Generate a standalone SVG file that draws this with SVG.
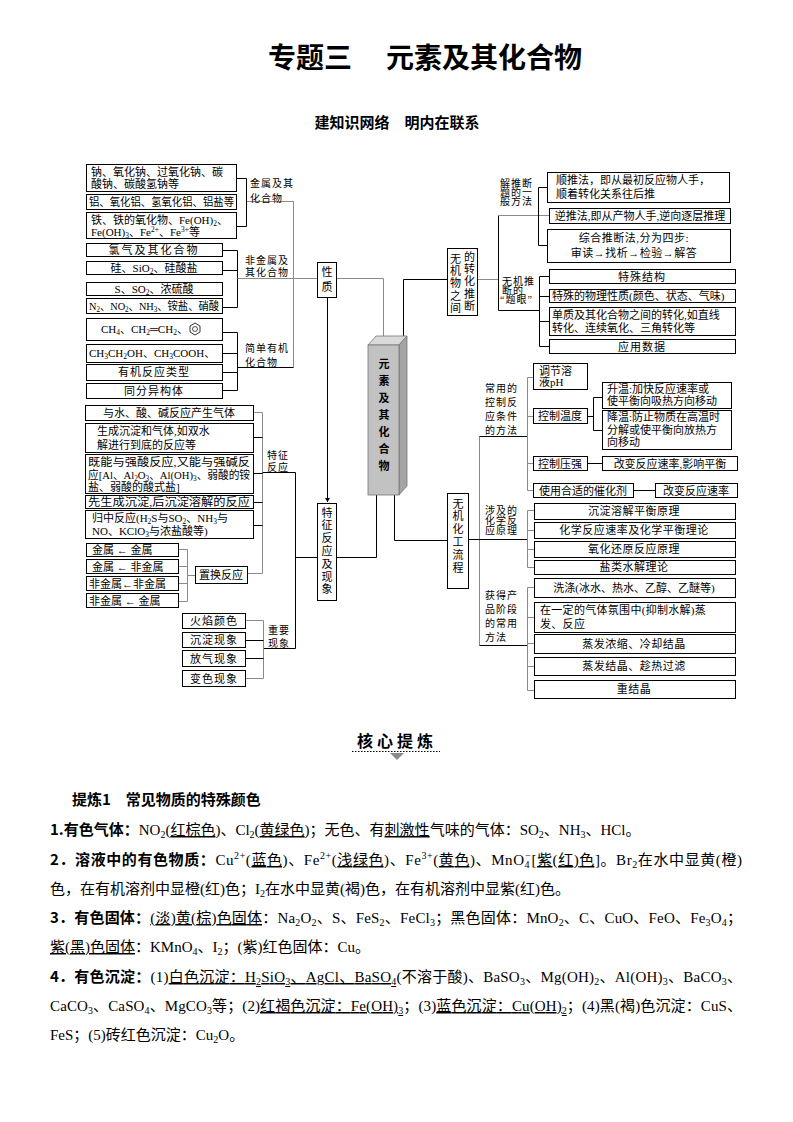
<svg xmlns="http://www.w3.org/2000/svg" width="793" height="1122" viewBox="0 0 793 1122">
<defs>
<style>
.b{fill:#fff;stroke:#000;stroke-width:1}
.t{font-family:"Liberation Serif","Noto Sans CJK SC",serif;font-size:11px;fill:#000}
.c{text-anchor:middle}
.lb{font-family:"Liberation Serif","Noto Sans CJK SC",serif;font-size:10px;fill:#000;letter-spacing:1px}
.s{font-size:7.5px}
.k{stroke:#000;stroke-width:1;fill:none}
.g{stroke:#8a8a8a;stroke-width:1;fill:none}
.v{font-family:"Noto Sans CJK SC",sans-serif;font-size:11px;fill:#000;writing-mode:vertical-rl}
.p{font-family:"Liberation Serif","Noto Sans CJK SC",serif;font-size:15px;fill:#000}
.bd{font-family:"Noto Sans CJK SC",sans-serif;font-weight:bold}
.w{text-decoration:underline wavy;text-decoration-thickness:1px}
.ps{font-size:10px}
</style>
<marker id="ah" markerWidth="5" markerHeight="5" refX="4" refY="2.5" orient="auto" markerUnits="userSpaceOnUse"><path d="M0,0 L4,2.5 L0,5 z" fill="#000"/></marker>
</defs>
<rect width="793" height="1122" fill="#fff"/>

<g id="title">
<text x="268" y="68" font-family="Noto Sans CJK SC,sans-serif" font-size="28" font-weight="bold">专题三</text>
<text x="386" y="68" font-family="Noto Sans CJK SC,sans-serif" font-size="28" font-weight="bold">元素及其化合物</text>
<text x="397" y="128" font-family="Noto Sans CJK SC,sans-serif" font-size="15" font-weight="bold" text-anchor="middle">建知识网络　明内在联系</text>
</g>

<g id="connectors">
<path class="k" d="M236,178.5H246.5V226.5H236"/>
<path class="g" d="M247,201.5H293.5V367.5"/>
<path class="k" d="M222,250.5H237.5V307.5H222M222,270.5H237.5"/>
<path class="g" d="M237.5,278.5H317"/>
<path class="k" d="M222,332.5H237.5V390.5H222M222,353.5H237.5M222,372.5H237.5M237.5,367.5H293.5"/>
<path class="g" d="M337,278.5H383.5V337"/>
<path class="k" d="M327.5,297V502" marker-end="url(#ah)"/>
<path class="k" d="M403.5,337V279.5H447"/>
<path class="g" d="M477,279.5H498.5"/>
<path class="k" d="M498.5,215.5V310.5H539"/>
<path class="g" d="M498.5,215.5H549"/>
<path class="k" d="M547,187.5H538.5V245.5H547"/>
<path class="k" d="M549,276.5H539.5V346.5H549M539.5,296.5H549M539.5,321.5H549"/>
<path class="k" d="M376.5,495V557.5H336"/>
<path class="k" d="M394.5,490V540.5H447"/>
<path class="g" d="M253,412.5H262.5V573.5H247"/>
<path class="k" d="M253,437.5H262.5M253,473.5H262.5M253,502.5H262.5M253,525.5H262.5"/>
<path class="k" d="M262.5,472.5H295.5V648.5H263"/>
<path class="k" d="M295.5,557.5H317"/>
<path class="g" d="M245,620.5H263.5V678.5H245"/>
<path class="k" d="M245,640.5H263.5M245,658.5H263.5"/>
<path class="g" d="M178,549.5H187.5V601.5H178M178,566.5H187.5M178,583.5H187.5M187.5,575.5H195"/>
<path class="g" d="M479.5,436.5V645.5"/>
<path class="k" d="M468,539.5H527.5M479.5,436.5H527.5M479.5,645.5H527.5"/>
<path class="g" d="M533,377.5H527.5V490.5H533M527.5,416.5H533M527.5,463.5H533"/>
<path class="k" d="M587,416.5H593.5M593.5,397.5V430.5M593.5,397.5H602M593.5,430.5H602M587,463.5H602M633,490.5H655"/>
<path class="g" d="M534,510.5H527.5V567.5H534M527.5,530.5H534M527.5,549.5H534"/>
<path class="g" d="M534,587.5H527.5V690.5H534M527.5,617.5H534M527.5,643.5H534M527.5,666.5H534"/>
</g>

<g id="main">
<polygon points="368,345 376,336 407,336 399,345" fill="#dadada" stroke="#777" stroke-width="0.8"/>
<polygon points="399,345 407,336 407,486 399,495" fill="#a4a4a4" stroke="#777" stroke-width="0.8"/>
<rect x="368" y="345" width="31" height="150" fill="#c2c2c2" stroke="#777" stroke-width="0.8"/>
<text class="v" x="384" y="358" font-size="13" font-weight="bold" letter-spacing="6">元素及其化合物</text>
</g>

<g id="n-xingzhi"><rect class="b" x="317.5" y="262.5" width="19" height="35"/><text class="v" x="327" y="266" font-size="12" letter-spacing="4">性质</text></g>
<g id="n-tezheng"><rect class="b" x="317.5" y="503.5" width="19" height="97"/><text class="v" x="327" y="507" font-size="11.5" letter-spacing="1.8">特征反应及现象</text></g>
<g id="n-wuji"><rect class="b" x="447.5" y="248.5" width="30" height="67"/>
<text class="v" x="455.5" y="253" letter-spacing="1.4">无机物之间</text>
<text class="v" x="469.5" y="251" letter-spacing="1.4">的转化推断</text></g>
<g id="n-huagong"><rect class="b" x="447.5" y="493.5" width="21" height="95"/><text class="v" x="458" y="498" font-size="12.5" letter-spacing="1.8">无机化工流程</text></g>

<g id="labels-left">
<text class="lb" x="250" y="187">金属及其<tspan x="250" dy="15">化合物</tspan></text>
<text class="lb" x="245" y="264">非金属及<tspan x="245" dy="12">其化合物</tspan></text>
<text class="lb" x="245" y="352">简单有机<tspan x="245" dy="14">化合物</tspan></text>
<text class="lb" x="267" y="459">特征<tspan x="267" dy="12">反应</tspan></text>
<text class="lb" x="268" y="634">重要<tspan x="268" dy="13">现象</tspan></text>
</g>

<g id="n-na"><rect class="b" x="86.5" y="164.5" width="150" height="27"/><text class="t" x="91" y="176">钠、氧化钠、过氧化钠、碳<tspan x="91" dy="12">酸钠、碳酸氢钠等</tspan></text></g>
<g id="n-al"><rect class="b" x="86.5" y="194.5" width="150" height="15"/><text class="t" x="89" y="206" textLength="145" lengthAdjust="spacingAndGlyphs">铝、氧化铝、氢氧化铝、铝盐等</text></g>
<g id="n-fe"><rect class="b" x="86.5" y="212.5" width="150" height="26"/><text class="t" x="91" y="224">铁、铁的氧化物、Fe(OH)<tspan class="s" dy="2">2</tspan><tspan dy="-2">、</tspan><tspan x="91" dy="12">Fe(OH)</tspan><tspan class="s" dy="2">3</tspan><tspan dy="-2">、Fe</tspan><tspan class="s" dy="-4">2+</tspan><tspan dy="4">、Fe</tspan><tspan class="s" dy="-4">3+</tspan><tspan dy="4">等</tspan></text></g>
<g id="n-cl"><rect class="b" x="86.5" y="243.5" width="136" height="13"/><text class="t c" x="154" y="254" letter-spacing="2">氯气及其化合物</text></g>
<g id="n-si"><rect class="b" x="86.5" y="261.5" width="136" height="13"/><text class="t c" x="154" y="272">硅、SiO<tspan class="s" dy="2">2</tspan><tspan dy="-2">、硅酸盐</tspan></text></g>
<g id="n-s"><rect class="b" x="86.5" y="282.5" width="136" height="13"/><text class="t c" x="154" y="293">S、SO<tspan class="s" dy="2">2</tspan><tspan dy="-2">、浓硫酸</tspan></text></g>
<g id="n-n"><rect class="b" x="86.5" y="298.5" width="136" height="15"/><text class="t" x="89" y="310" font-size="10.5" textLength="130" lengthAdjust="spacingAndGlyphs">N<tspan class="s" dy="2">2</tspan><tspan dy="-2">、NO</tspan><tspan class="s" dy="2">2</tspan><tspan dy="-2">、NH</tspan><tspan class="s" dy="2">3</tspan><tspan dy="-2">、铵盐、硝酸</tspan></text></g>
<g id="n-ch4"><rect class="b" x="86.5" y="318.5" width="136" height="22"/><text class="t" x="101" y="333">CH<tspan class="s" dy="2">4</tspan><tspan dy="-2">、CH</tspan><tspan class="s" dy="2">2</tspan><tspan dy="-2">═CH</tspan><tspan class="s" dy="2">2</tspan><tspan dy="-2">、</tspan></text>
<polygon points="195,323 200,326 200,332 195,335 190,332 190,326" fill="none" stroke="#000" stroke-width="0.8"/><circle cx="195" cy="329" r="2.5" fill="none" stroke="#000" stroke-width="0.7"/></g>
<g id="n-ch3"><rect class="b" x="86.5" y="344.5" width="136" height="18"/><text class="t" x="89" y="357">CH<tspan class="s" dy="2">3</tspan><tspan dy="-2">CH</tspan><tspan class="s" dy="2">2</tspan><tspan dy="-2">OH、CH</tspan><tspan class="s" dy="2">3</tspan><tspan dy="-2">COOH、</tspan></text></g>
<g id="n-yjfy"><rect class="b" x="86.5" y="364.5" width="136" height="16"/><text class="t c" x="154" y="376" letter-spacing="1">有机反应类型</text></g>
<g id="n-tfy"><rect class="b" x="86.5" y="383.5" width="136" height="15"/><text class="t c" x="154" y="395" letter-spacing="1">同分异构体</text></g>

<g id="n-gas"><rect class="b" x="85.5" y="405.5" width="168" height="15"/><text class="t c" x="169" y="417">与水、酸、碱反应产生气体</text></g>
<g id="n-sj"><rect class="b" x="85.5" y="423.5" width="168" height="29"/><text class="t" x="97" y="435" font-size="12">生成沉淀和气体,如双水<tspan x="97" dy="14">解进行到底的反应等</tspan></text></g>
<g id="n-ls"><rect class="b" x="85.5" y="454.5" width="168" height="39"/><text class="t" x="88" y="466" textLength="162" lengthAdjust="spacingAndGlyphs">既能与强酸反应,又能与强碱反</text><text class="t" x="88" y="479" textLength="162" lengthAdjust="spacingAndGlyphs">应[Al、Al<tspan class="s" dy="2">2</tspan><tspan dy="-2">O</tspan><tspan class="s" dy="2">3</tspan><tspan dy="-2">、Al(OH)</tspan><tspan class="s" dy="2">3</tspan><tspan dy="-2">、弱酸的铵</tspan></text><text class="t" x="88" y="491">盐、弱酸的酸式盐]</text></g>
<g id="n-xs"><rect class="b" x="85.5" y="495.5" width="168" height="13"/><text class="t" x="88" y="506" textLength="162" lengthAdjust="spacingAndGlyphs">先生成沉淀,后沉淀溶解的反应</text></g>
<g id="n-gz"><rect class="b" x="85.5" y="510.5" width="168" height="28"/><text class="t" x="92" y="522">归中反应(H<tspan class="s" dy="2">2</tspan><tspan dy="-2">S与SO</tspan><tspan class="s" dy="2">2</tspan><tspan dy="-2">、NH</tspan><tspan class="s" dy="2">3</tspan><tspan dy="-2">与</tspan><tspan x="92" dy="13">NO、KClO</tspan><tspan class="s" dy="2">3</tspan><tspan dy="-2">与浓盐酸等)</tspan></text></g>

<g id="n-zh1"><rect class="b" x="86.5" y="543.5" width="92" height="13"/><text class="t" x="92" y="554">金属 ← 金属</text></g>
<g id="n-zh2"><rect class="b" x="86.5" y="559.5" width="92" height="14"/><text class="t" x="92" y="571">金属 ← 非金属</text></g>
<g id="n-zh3"><rect class="b" x="86.5" y="576.5" width="92" height="14"/><text class="t" x="89" y="588">非金属←非金属</text></g>
<g id="n-zh4"><rect class="b" x="86.5" y="593.5" width="92" height="14"/><text class="t" x="89" y="605">非金属 ← 金属</text></g>
<g id="n-zhfy"><rect class="b" x="195.5" y="566.5" width="52" height="17"/><text class="t c" x="221" y="579" font-size="11.5">置换反应</text></g>

<g id="n-hy"><rect class="b" x="182.5" y="613.5" width="63" height="15"/><text class="t c" x="214" y="625" letter-spacing="1">火焰颜色</text></g>
<g id="n-cd"><rect class="b" x="182.5" y="632.5" width="63" height="15"/><text class="t c" x="214" y="644" letter-spacing="1">沉淀现象</text></g>
<g id="n-fq"><rect class="b" x="182.5" y="650.5" width="63" height="16"/><text class="t c" x="214" y="663" letter-spacing="1">放气现象</text></g>
<g id="n-bs"><rect class="b" x="182.5" y="670.5" width="63" height="16"/><text class="t c" x="214" y="683" letter-spacing="1">变色现象</text></g>

<g id="labels-right">
<text class="lb" x="500" y="187" font-size="9.5">解推断<tspan x="500" dy="9">题的一</tspan><tspan x="500" dy="9">般方法</tspan></text>
<text class="lb" x="502" y="285" font-size="9.5">无机推<tspan x="502" dy="9">断的</tspan><tspan x="500" dy="9">“题眼”</tspan></text>
<text class="lb" x="485" y="392">常用的<tspan x="485" dy="14">控制反</tspan><tspan x="485" dy="14">应条件</tspan><tspan x="485" dy="14">的方法</tspan></text>
<text class="lb" x="485" y="514" font-size="9.5">涉及的<tspan x="485" dy="10">化学反</tspan><tspan x="485" dy="10">应原理</tspan></text>
<text class="lb" x="485" y="599">获得产<tspan x="485" dy="14">品阶段</tspan><tspan x="485" dy="14">的常用</tspan><tspan x="485" dy="14">方法</tspan></text>
</g>

<g id="n-shun"><rect class="b" x="547.5" y="172.5" width="182" height="30"/><text class="t" x="556" y="184">顺推法，即从最初反应物人手，<tspan x="556" dy="14">顺着转化关系往后推</tspan></text></g>
<g id="n-ni"><rect class="b" x="549.5" y="208.5" width="181" height="15"/><text class="t c" x="640" y="220" font-size="10.5">逆推法,即从产物人手,逆向逐层推理</text></g>
<g id="n-zonghe"><rect class="b" x="547.5" y="229.5" width="183" height="33"/><text class="t c" x="634" y="242" letter-spacing="0.5">综合推断法,分为四步:<tspan x="634" dy="15">审读→找析→检验→解答</tspan></text></g>
<g id="n-tsjg"><rect class="b" x="549.5" y="269.5" width="186" height="14"/><text class="t c" x="642" y="281" letter-spacing="1">特殊结构</text></g>
<g id="n-wlxz"><rect class="b" x="549.5" y="289.5" width="186" height="13"/><text class="t" x="552" y="300" font-size="10.5">特殊的物理性质(颜色、状态、气味)</text></g>
<g id="n-dz"><rect class="b" x="549.5" y="307.5" width="186" height="28"/><text class="t" x="552" y="319">单质及其化合物之间的转化,如直线<tspan x="552" dy="13">转化、连续氧化、三角转化等</tspan></text></g>
<g id="n-yysj"><rect class="b" x="549.5" y="339.5" width="186" height="14"/><text class="t c" x="642" y="351" letter-spacing="1">应用数据</text></g>

<g id="n-ph"><rect class="b" x="533.5" y="363.5" width="54" height="26"/><text class="t" x="539" y="375">调节溶<tspan x="539" dy="11">液pH</tspan></text></g>
<g id="n-wd"><rect class="b" x="533.5" y="408.5" width="54" height="15"/><text class="t c" x="560" y="420">控制温度</text></g>
<g id="n-sw"><rect class="b" x="602.5" y="382.5" width="129" height="26"/><text class="t" x="607" y="393">升温:加快反应速率或<tspan x="607" dy="12">使平衡向吸热方向移动</tspan></text></g>
<g id="n-jw"><rect class="b" x="602.5" y="410.5" width="129" height="39"/><text class="t" x="607" y="421">降温:防止物质在高温时<tspan x="607" dy="13">分解或使平衡向放热方</tspan><tspan x="607" dy="12">向移动</tspan></text></g>
<g id="n-yq"><rect class="b" x="533.5" y="456.5" width="54" height="14"/><text class="t c" x="560" y="468">控制压强</text></g>
<g id="n-yqr"><rect class="b" x="602.5" y="456.5" width="135" height="14"/><text class="t c" x="670" y="468">改变反应速率,影响平衡</text></g>
<g id="n-chj"><rect class="b" x="533.5" y="483.5" width="100" height="14"/><text class="t c" x="583" y="495">使用合适的催化剂</text></g>
<g id="n-chjr"><rect class="b" x="655.5" y="483.5" width="82" height="14"/><text class="t c" x="696" y="495">改变反应速率</text></g>

<g id="n-cdrj"><rect class="b" x="534.5" y="503.5" width="201" height="16"/><text class="t c" x="634" y="515" letter-spacing="0.5">沉淀溶解平衡原理</text></g>
<g id="n-sl"><rect class="b" x="534.5" y="522.5" width="201" height="16"/><text class="t c" x="634" y="534" letter-spacing="0.5">化学反应速率及化学平衡理论</text></g>
<g id="n-yh"><rect class="b" x="534.5" y="541.5" width="201" height="16"/><text class="t c" x="634" y="553" letter-spacing="0.5">氧化还原反应原理</text></g>
<g id="n-sj2"><rect class="b" x="534.5" y="560.5" width="201" height="14"/><text class="t c" x="634" y="571" letter-spacing="0.5">盐类水解理论</text></g>
<g id="n-xd"><rect class="b" x="534.5" y="578.5" width="201" height="19"/><text class="t c" x="634" y="592">洗涤(冰水、热水、乙醇、乙醚等)</text></g>
<g id="n-qt"><rect class="b" x="534.5" y="602.5" width="201" height="30"/><text class="t" x="540" y="614" letter-spacing="0.3">在一定的气体氛围中(抑制水解)蒸<tspan x="540" dy="14">发、反应</tspan></text></g>
<g id="n-zf1"><rect class="b" x="534.5" y="634.5" width="201" height="19"/><text class="t c" x="634" y="648" letter-spacing="0.5">蒸发浓缩、冷却结晶</text></g>
<g id="n-zf2"><rect class="b" x="534.5" y="657.5" width="201" height="18"/><text class="t c" x="634" y="670" letter-spacing="0.5">蒸发结晶、趁热过滤</text></g>
<g id="n-cj"><rect class="b" x="534.5" y="680.5" width="201" height="18"/><text class="t c" x="634" y="693" letter-spacing="0.5">重结晶</text></g>

<g id="section">
<text x="397" y="747" font-family="Noto Sans CJK SC,sans-serif" font-size="16" font-weight="bold" text-anchor="middle" letter-spacing="4">核心提炼</text>
<line x1="352" y1="751.5" x2="440" y2="751.5" stroke="#000" stroke-width="1" stroke-dasharray="1.5,1.5"/>
<polygon points="390,753 404,753 397,760" fill="#8a8a8a"/>
<text x="72" y="805" font-family="Noto Sans CJK SC,sans-serif" font-size="15" font-weight="bold">提炼1　常见物质的特殊颜色</text>
</g>

<g id="body">
<text class="p" x="50" y="835"><tspan class="bd">1.有色气体：</tspan>NO<tspan class="ps" dy="3">2</tspan><tspan dy="-3">(</tspan><tspan class="w">红棕色</tspan>)、Cl<tspan class="ps" dy="3">2</tspan><tspan dy="-3">(</tspan><tspan class="w">黄绿色</tspan>)；无色、有<tspan class="w">刺激性</tspan>气味的气体：SO<tspan class="ps" dy="3">2</tspan><tspan dy="-3">、NH</tspan><tspan class="ps" dy="3">3</tspan><tspan dy="-3">、HCl。</tspan></text>
<text class="p" x="50" y="865" textLength="692" lengthAdjust="spacing"><tspan class="bd">2．溶液中的有色物质：</tspan>Cu<tspan class="ps" dy="-6">2+</tspan><tspan dy="6">(</tspan><tspan class="w">蓝色</tspan>)、Fe<tspan class="ps" dy="-6">2+</tspan><tspan dy="6">(</tspan><tspan class="w">浅绿色</tspan>)、Fe<tspan class="ps" dy="-6">3+</tspan><tspan dy="6">(</tspan><tspan class="w">黄色</tspan>)、MnO<tspan class="ps" dy="3">4</tspan><tspan class="ps" dx="-5" dy="-9">−</tspan><tspan dy="6">[</tspan><tspan class="w">紫(红)色</tspan>]。Br<tspan class="ps" dy="3">2</tspan><tspan dy="-3">在水中显黄(橙)</tspan></text>
<text class="p" x="50" y="894">色，在有机溶剂中显橙(红)色；I<tspan class="ps" dy="3">2</tspan><tspan dy="-3">在水中显黄(褐)色，在有机溶剂中显紫(红)色。</tspan></text>
<text class="p" x="50" y="923" textLength="692" lengthAdjust="spacing"><tspan class="bd">3．有色固体：</tspan><tspan class="w">(淡)黄(棕)色固体</tspan>：Na<tspan class="ps" dy="3">2</tspan><tspan dy="-3">O</tspan><tspan class="ps" dy="3">2</tspan><tspan dy="-3">、S、FeS</tspan><tspan class="ps" dy="3">2</tspan><tspan dy="-3">、FeCl</tspan><tspan class="ps" dy="3">3</tspan><tspan dy="-3">；黑色固体：MnO</tspan><tspan class="ps" dy="3">2</tspan><tspan dy="-3">、C、CuO、FeO、Fe</tspan><tspan class="ps" dy="3">3</tspan><tspan dy="-3">O</tspan><tspan class="ps" dy="3">4</tspan><tspan dy="-3">；</tspan></text>
<text class="p" x="50" y="952"><tspan class="w">紫(黑)色固体</tspan>：KMnO<tspan class="ps" dy="3">4</tspan><tspan dy="-3">、I</tspan><tspan class="ps" dy="3">2</tspan><tspan dy="-3">；(紫)红色固体：Cu。</tspan></text>
<text class="p" x="50" y="982" textLength="692" lengthAdjust="spacing"><tspan class="bd">4．有色沉淀：</tspan>(1)<tspan class="w">白色沉淀：H<tspan class="ps" dy="3">2</tspan><tspan dy="-3">SiO</tspan><tspan class="ps" dy="3">3</tspan><tspan dy="-3">、AgCl、BaSO</tspan><tspan class="ps" dy="3">4</tspan></tspan><tspan dy="-3">(不溶于酸)、BaSO</tspan><tspan class="ps" dy="3">3</tspan><tspan dy="-3">、Mg(OH)</tspan><tspan class="ps" dy="3">2</tspan><tspan dy="-3">、Al(OH)</tspan><tspan class="ps" dy="3">3</tspan><tspan dy="-3">、BaCO</tspan><tspan class="ps" dy="3">3</tspan><tspan dy="-3">、</tspan></text>
<text class="p" x="50" y="1011" textLength="692" lengthAdjust="spacing">CaCO<tspan class="ps" dy="3">3</tspan><tspan dy="-3">、CaSO</tspan><tspan class="ps" dy="3">4</tspan><tspan dy="-3">、MgCO</tspan><tspan class="ps" dy="3">3</tspan><tspan dy="-3">等；(2)</tspan><tspan class="w">红褐色沉淀：Fe(OH)<tspan class="ps" dy="3">3</tspan></tspan><tspan dy="-3">；(3)</tspan><tspan class="w">蓝色沉淀：Cu(OH)<tspan class="ps" dy="3">2</tspan></tspan><tspan dy="-3">；(4)黑(褐)色沉淀：CuS、</tspan></text>
<text class="p" x="50" y="1040">FeS；(5)砖红色沉淀：Cu<tspan class="ps" dy="3">2</tspan><tspan dy="-3">O。</tspan></text>
</g>
</svg>
